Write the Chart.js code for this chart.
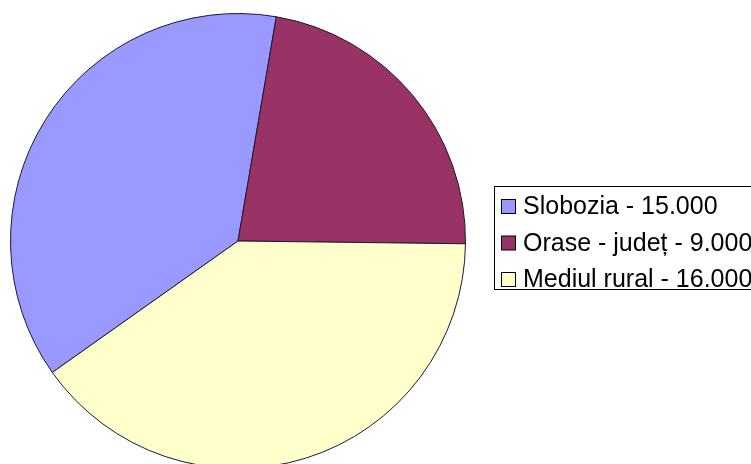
<!DOCTYPE html>
<html>
<head>
<meta charset="utf-8">
<script src="https://cdn.jsdelivr.net/npm/chart.js@4"></script>
<style>
  html, body { margin: 0; padding: 0; background: #fff; overflow: hidden; width: 751px; height: 464px; }
  canvas { display: block; }
</style>
</head>
<body>
<canvas id="pieChart" width="751" height="480"></canvas>
<script>
const categories = ["Slobozia", "Orase - județ", "Mediul rural"];
const values = [15000, 9000, 16000];
const colors = ["#9999FF", "#993366", "#FFFFCC"];

const fmt = v => String(v).replace(/\B(?=(\d{3})+(?!\d))/g, ".");

// Boxed legend like the original sheet
const boxLegend = {
  id: "boxLegend",
  afterDraw(chart) {
    const ctx = chart.ctx;
    const labels = chart.data.labels;
    const ds = chart.data.datasets[0];
    ctx.save();
    ctx.strokeStyle = "#000";
    ctx.lineWidth = 1;
    ctx.strokeRect(494.5, 186.5, 320, 103);
    ctx.font = "25px 'Liberation Sans', Arial, sans-serif";
    ctx.textBaseline = "middle";
    labels.forEach((lab, i) => {
      const y = 199.5 + i * 36.5;
      ctx.fillStyle = ds.backgroundColor[i];
      ctx.fillRect(501.5, y, 14, 14);
      ctx.strokeStyle = "#000";
      ctx.strokeRect(501.5, y, 14, 14);
      ctx.fillStyle = "#000";
      ctx.fillText(lab + " - " + fmt(ds.data[i]), 523, y + 8);
    });
    ctx.restore();
  }
};

new Chart(document.getElementById("pieChart"), {
  type: "pie",
  data: {
    labels: categories,
    datasets: [{
      data: values,
      backgroundColor: colors,
      borderColor: "#1a1a33",
      borderWidth: 1
    }]
  },
  options: {
    responsive: false,
    animation: false,
    rotation: -125.3,
    layout: { padding: { left: 10, top: 13, right: 285, bottom: 11 } },
    plugins: { legend: { display: false }, tooltip: { enabled: false } }
  },
  plugins: [boxLegend]
});
</script>
</body>
</html>
